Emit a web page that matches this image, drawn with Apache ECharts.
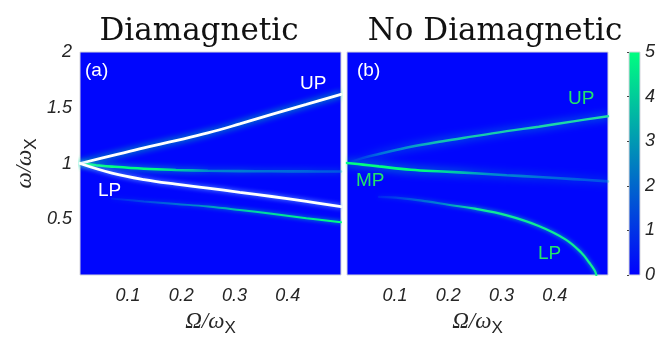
<!DOCTYPE html>
<html>
<head>
<meta charset="utf-8">
<script src="https://cdn.jsdelivr.net/npm/echarts@6/dist/echarts.min.js"></script>
<style>
  html, body { margin: 0; padding: 0; background: #fff; }
  #chart { width: 658px; height: 339px; }
</style>
</head>
<body>
<div id="chart"></div>
<script>
// panel (a) Diamagnetic - branches
const aUpX = [0.01, 0.07, 0.13, 0.19, 0.25, 0.31, 0.37, 0.435, 0.5]
const aUpY = [1.0, 1.07, 1.14, 1.205, 1.274, 1.355, 1.44, 1.53, 1.62]
const aLpX = [0.01, 0.07, 0.13, 0.19, 0.25, 0.31, 0.37, 0.435, 0.5]
const aLpY = [1.0, 0.914, 0.856, 0.815, 0.78, 0.742, 0.704, 0.66, 0.614]
const aMpX = [0.01, 0.04, 0.07, 0.13, 0.19, 0.25, 0.31, 0.37, 0.435, 0.5]
const aMpY = [1.0, 0.985, 0.972, 0.953, 0.942, 0.935, 0.932, 0.93, 0.929, 0.928]
const aLowX = [0.07, 0.13, 0.19, 0.25, 0.31, 0.37, 0.435, 0.5]
const aLowY = [0.685, 0.66, 0.637, 0.614, 0.583, 0.549, 0.51, 0.474]

// panel (b) No Diamagnetic
const bUpX = [0.015, 0.04, 0.07, 0.13, 0.19, 0.25, 0.31, 0.37, 0.435, 0.5]
const bUpY = [1.01, 1.05, 1.085, 1.15, 1.2, 1.245, 1.29, 1.33, 1.378, 1.424]
const bMpX = [0.01, 0.04, 0.07, 0.13, 0.19, 0.25, 0.31, 0.37, 0.435, 0.5]
const bMpY = [1.005, 0.99, 0.974, 0.944, 0.928, 0.912, 0.895, 0.879, 0.86, 0.84]
const bLpX = [0.07, 0.11, 0.16, 0.2, 0.25, 0.31, 0.37, 0.42, 0.45, 0.465, 0.475, 0.478]
const bLpY = [0.7, 0.69, 0.66, 0.63, 0.595, 0.535, 0.44, 0.32, 0.2, 0.11, 0.04, 0.0]

// axes
const xRange = [0.01, 0.5]
const xTicks = [0.1, 0.2, 0.3, 0.4]
const yRange = [0, 2]
const yTicks = [0.5, 1, 1.5, 2]
const cbarTicks = [0, 1, 2, 3, 4, 5]

const BG = '#0006fd'
const GREEN = '#00ff80'
const LABEL_GREEN = '#22e46a'
const TICK_FONT = { fontFamily: 'Liberation Sans', fontStyle: 'italic', fontSize: 18, color: '#262626' }

const pairs = (xs, ys) => xs.map((x, i) => [x, ys[i]])
const grad = stops => new echarts.graphic.LinearGradient(0, 0, 1, 0,
  stops.map(([offset, color]) => ({ offset, color })))

const axisName = {
  rich: {
    g: { fontFamily: 'Liberation Serif', fontStyle: 'italic', fontSize: 23, color: '#262626', lineHeight: 30, verticalAlign: 'middle' },
    s: { fontFamily: 'Liberation Sans', fontSize: 17, color: '#262626', lineHeight: 30, verticalAlign: 'bottom' }
  }
}

function xAxisFor (gridIndex) {
  return {
    gridIndex,
    type: 'value',
    min: xRange[0],
    max: xRange[1],
    name: '{g|Ω/ω}{s|X}',
    nameLocation: 'middle',
    nameGap: 32,
    nameTextStyle: axisName,
    axisLine: { show: false },
    axisTick: { show: false },
    splitLine: { show: false },
    axisLabel: { ...TICK_FONT, margin: 12, customValues: xTicks }
  }
}

function lineSeries (grid, data, width, color, glow, blur) {
  return {
    type: 'line',
    xAxisIndex: grid,
    yAxisIndex: grid,
    data,
    smooth: 0.4,
    showSymbol: false,
    silent: true,
    lineStyle: { width, color, shadowColor: glow, shadowBlur: blur, cap: 'round' }
  }
}

const chart = echarts.init(document.getElementById('chart'), null, { renderer: 'canvas' })

const annot = (text, left, cy, fill) => ({
  type: 'text',
  left,
  top: cy - 11,
  style: { text, fill, font: '19px "Liberation Sans"' }
})

const panelGrid = left => ({
  left, top: 52, width: 261, height: 223,
  outerBoundsMode: 'none',
  show: true, backgroundColor: BG, borderColor: '#d4d4dc', borderWidth: 1
})

chart.setOption({
  animation: false,
  title: [
    { text: 'Diamagnetic', left: 194, top: 11, textAlign: 'center',
      textStyle: { fontFamily: 'DejaVu Serif', fontWeight: 'normal', fontSize: 31, color: '#111' } },
    { text: 'No Diamagnetic', left: 490, top: 11, textAlign: 'center',
      textStyle: { fontFamily: 'DejaVu Serif', fontWeight: 'normal', fontSize: 31, color: '#111' } }
  ],
  grid: [
    panelGrid(80),
    panelGrid(347),
    { left: 629, top: 52, width: 11, height: 223, outerBoundsMode: 'none',
      show: true, borderColor: '#d4d4dc', borderWidth: 1,
      backgroundColor: new echarts.graphic.LinearGradient(0, 1, 0, 0, [
        { offset: 0, color: '#0000ff' }, { offset: 1, color: GREEN }]) }
  ],
  xAxis: [
    xAxisFor(0),
    xAxisFor(1),
    { gridIndex: 2, type: 'value', min: 0, max: 1, show: false }
  ],
  yAxis: [
    {
      gridIndex: 0,
      type: 'value',
      min: yRange[0],
      max: yRange[1],
      name: '{g|ω/ω}{s|X}',
      nameLocation: 'middle',
      nameRotate: 90,
      nameGap: 40,
      nameTextStyle: axisName,
      axisLine: { show: false },
      axisTick: { show: false },
      splitLine: { show: false },
      axisLabel: { ...TICK_FONT, margin: 8, customValues: yTicks }
    },
    {
      gridIndex: 1,
      type: 'value',
      min: yRange[0],
      max: yRange[1],
      axisLine: { show: false },
      axisTick: { show: false },
      splitLine: { show: false },
      axisLabel: { show: false }
    },
    {
      gridIndex: 2,
      type: 'value',
      position: 'right',
      min: cbarTicks[0],
      max: cbarTicks[cbarTicks.length - 1],
      interval: 1,
      axisLine: { show: false },
      axisTick: { show: true, inside: true, length: 2, lineStyle: { color: '#444' } },
      splitLine: { show: false },
      axisLabel: { ...TICK_FONT, margin: 5 }
    }
  ],
  series: [
    // (a)
    lineSeries(0, pairs(aMpX, aMpY), 2.6,
      grad([[0, GREEN], [0.3, GREEN], [0.5, 'rgba(0,210,180,0.55)'], [1, 'rgba(0,190,200,0.35)']]),
      'rgba(0,255,150,0.9)', 6),
    lineSeries(0, pairs(aLowX, aLowY), 2,
      grad([[0, 'rgba(0,190,200,0.1)'], [0.3, 'rgba(0,210,180,0.45)'], [0.6, 'rgba(0,240,150,0.85)'], [1, GREEN]]),
      'rgba(0,255,150,0.8)', 4),
    lineSeries(0, pairs(aUpX, aUpY), 2.8, '#ffffff', 'rgba(0,255,140,1)', 7),
    lineSeries(0, pairs(aLpX, aLpY), 2.8, '#ffffff', 'rgba(120,200,255,0.9)', 5),
    // (b)
    lineSeries(1, pairs(bUpX, bUpY), 2.4,
      grad([[0, 'rgba(0,170,210,0)'], [0.12, 'rgba(0,190,200,0.5)'], [0.35, 'rgba(20,210,170,0.9)'], [1, '#22e0a4']]),
      'rgba(0,220,180,0.9)', 9),
    lineSeries(1, pairs(bMpX, bMpY), 2.6,
      grad([[0, GREEN], [0.3, GREEN], [0.55, 'rgba(0,210,180,0.6)'], [1, 'rgba(0,180,210,0.35)']]),
      'rgba(0,255,150,0.9)', 8),
    lineSeries(1, pairs(bLpX, bLpY), 2.2,
      grad([[0, 'rgba(0,190,200,0.1)'], [0.3, 'rgba(0,210,180,0.55)'], [0.45, '#10e898'], [1, '#10f090']]),
      'rgba(0,255,150,0.8)', 4)
  ],
  graphic: [
    annot('(a)', 85, 72, '#fff'),
    annot('UP', 300, 85, '#fff'),
    annot('LP', 98, 192, '#fff'),
    annot('(b)', 357, 72, '#fff'),
    annot('UP', 568, 100, LABEL_GREEN),
    annot('MP', 356, 182, LABEL_GREEN),
    annot('LP', 538, 255, LABEL_GREEN)
  ]
})
</script>
</body>
</html>
